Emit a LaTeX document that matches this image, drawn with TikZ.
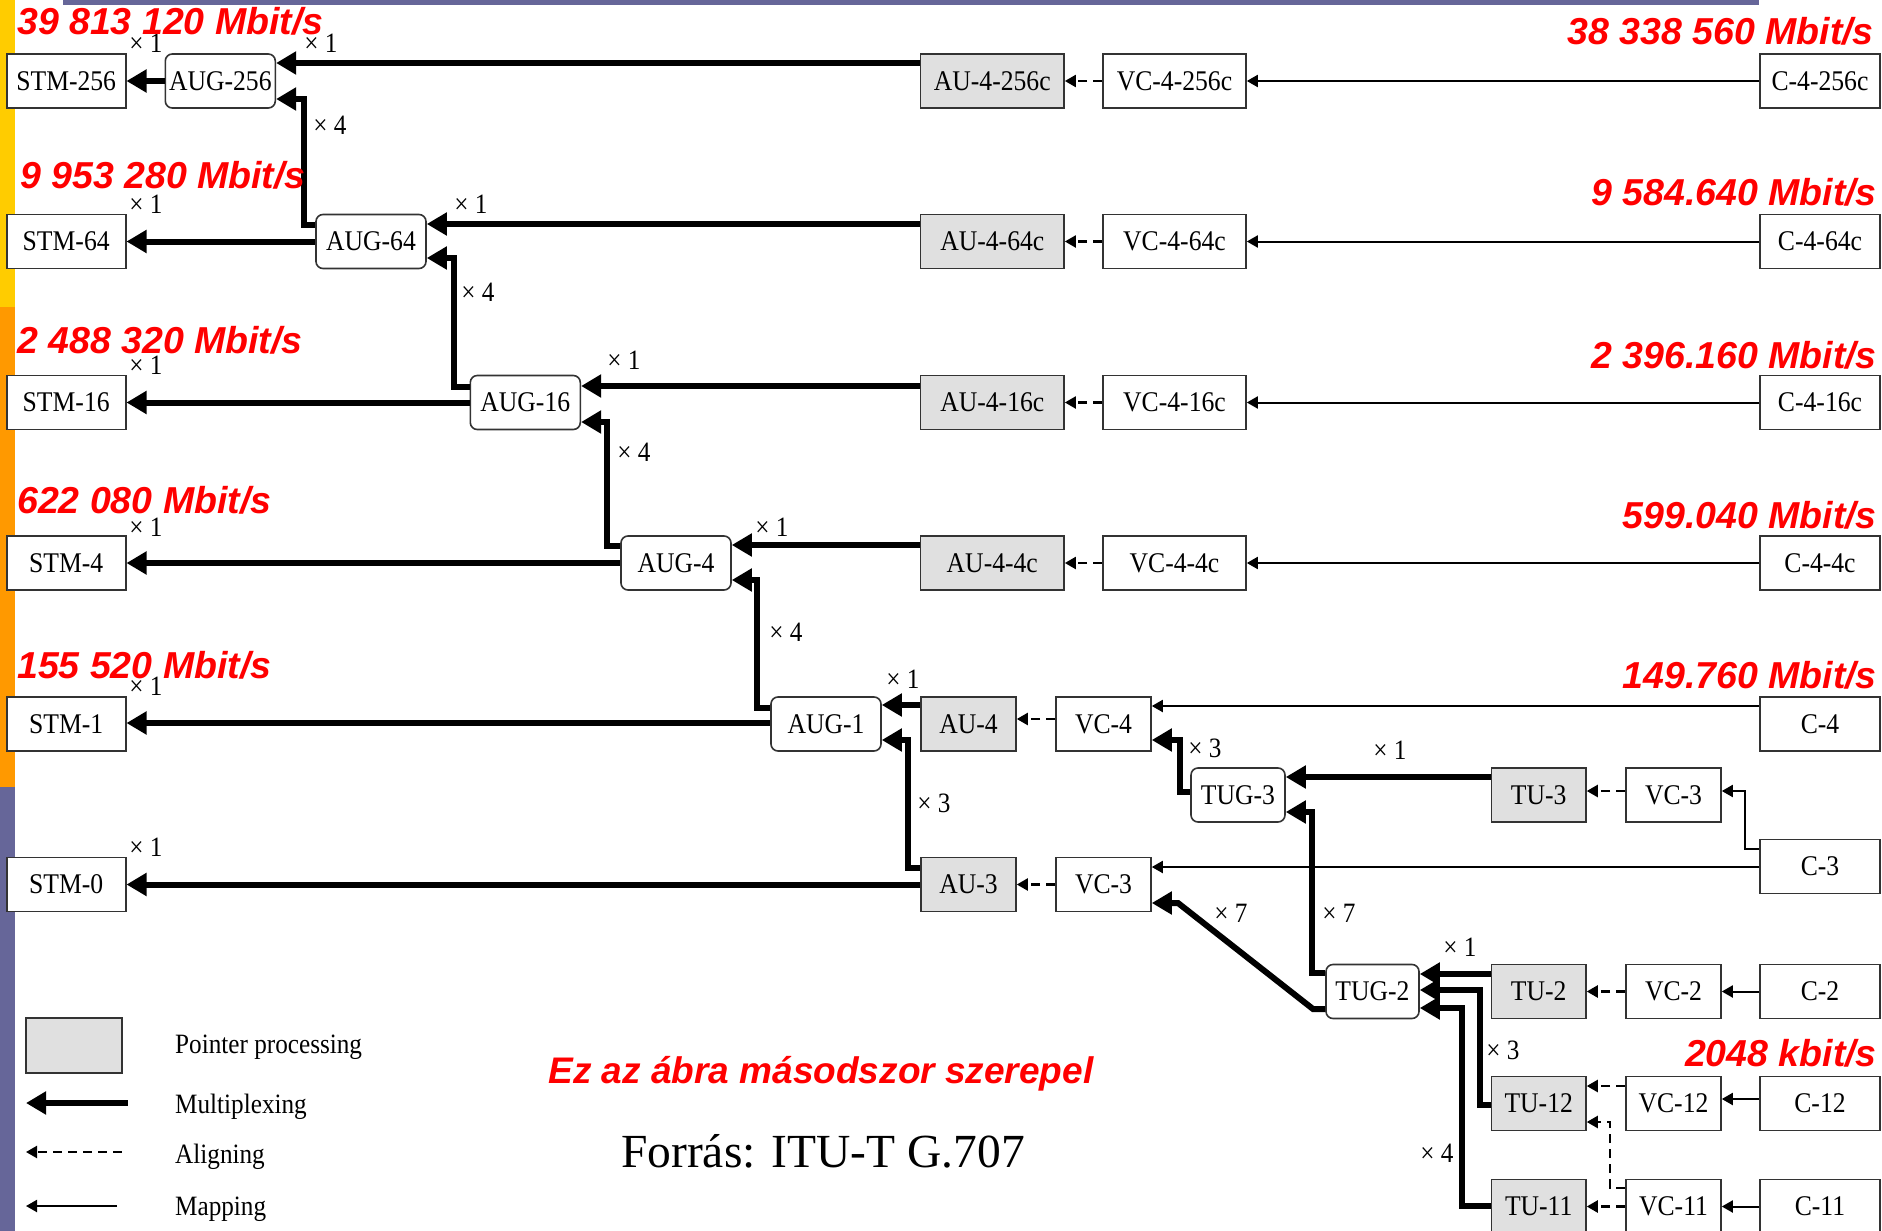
\documentclass[tikz,border=0pt]{standalone}
\usepackage{fontspec}
\setmainfont{Liberation Serif}
\newfontfamily\boxfont[FakeStretch=0.9]{Liberation Serif}
\newfontfamily\redfont{Liberation Sans}
\usetikzlibrary{arrows.meta}
\definecolor{barY}{HTML}{FFCC00}
\definecolor{barO}{HTML}{FF9900}
\definecolor{barB}{HTML}{666699}
\definecolor{boxline}{HTML}{333333}
\definecolor{ptrgray}{RGB}{224,224,224}
\tikzset{
  box/.style={draw=boxline, line width=1.6pt, fill=white, minimum height=54pt, inner sep=0pt,
    font=\boxfont\fontsize{28.5}{30}\selectfont},
  ptr/.style={box, fill=ptrgray},
  grp/.style={box, rounded corners=7pt},
  mux/.style={line width=6pt, line join=miter, -{Triangle[length=20pt,width=22pt]}},
  aln/.style={line width=2.2pt, dash pattern=on 9pt off 6pt, -{Triangle[length=11pt,width=12pt]}},
  mapp/.style={line width=2pt, -{Triangle[length=11pt,width=12pt]}},
  mult/.style={font=\boxfont\fontsize{28}{30}\selectfont, inner sep=0pt},
  rate/.style={font=\redfont\bfseries\itshape\fontsize{37.5}{40}\selectfont, text=red, inner sep=0pt},
  legtxt/.style={font=\boxfont\fontsize{28}{30}\selectfont, inner sep=0pt, anchor=base west},
}
\begin{document}
\begin{tikzpicture}[x=1pt,y=-1pt]
\useasboundingbox (0,0) rectangle (1882,1231);
% side bars and top rule
\fill[barY] (0,0) rectangle (14.5,307);
\fill[barO] (0,307) rectangle (14.5,787);
\fill[barB] (0,787) rectangle (14.5,1231);
\fill[barB] (63,0) rectangle (1759,4.7);

% STM column
\node[box, minimum width=119pt] (stm256) at (66.2,81) {STM-256};
\node[box, minimum width=119pt] (stm64) at (66.2,241.5) {STM-64};
\node[box, minimum width=119pt] (stm16) at (66.2,402.5) {STM-16};
\node[box, minimum width=119pt] (stm4) at (66.2,563) {STM-4};
\node[box, minimum width=119pt] (stm1) at (66.2,724) {STM-1};
\node[box, minimum width=119pt] (stm0) at (66.2,884.5) {STM-0};
% AUG
\node[grp, minimum width=110pt] (aug256) at (220.3,81) {AUG-256};
\node[grp, minimum width=110pt] (aug64) at (371,241.5) {AUG-64};
\node[grp, minimum width=110pt] (aug16) at (525.3,402.5) {AUG-16};
\node[grp, minimum width=110pt] (aug4) at (676,563) {AUG-4};
\node[grp, minimum width=110pt] (aug1) at (826,724) {AUG-1};
% AU-4-Nc
\node[ptr, minimum width=143.5pt] (au256) at (992.3,81) {AU-4-256c};
\node[ptr, minimum width=143.5pt] (au64) at (992.3,241.5) {AU-4-64c};
\node[ptr, minimum width=143.5pt] (au16) at (992.3,402.5) {AU-4-16c};
\node[ptr, minimum width=143.5pt] (au4c) at (992.3,563) {AU-4-4c};
% VC-4-Nc
\node[box, minimum width=143pt] (vc256) at (1174.5,81) {VC-4-256c};
\node[box, minimum width=143pt] (vc64) at (1174.5,241.5) {VC-4-64c};
\node[box, minimum width=143pt] (vc16) at (1174.5,402.5) {VC-4-16c};
\node[box, minimum width=143pt] (vc4c) at (1174.5,563) {VC-4-4c};
% C column
\node[box, minimum width=120pt] (c256) at (1820,81) {C-4-256c};
\node[box, minimum width=120pt] (c64) at (1820,241.5) {C-4-64c};
\node[box, minimum width=120pt] (c16) at (1820,402.5) {C-4-16c};
\node[box, minimum width=120pt] (c4c) at (1820,563) {C-4-4c};
\node[box, minimum width=120pt] (c4) at (1820,724) {C-4};
\node[box, minimum width=120pt] (c3) at (1820,866.5) {C-3};
\node[box, minimum width=120pt] (c2) at (1820,991.5) {C-2};
\node[box, minimum width=120pt] (c12) at (1820,1103.5) {C-12};
\node[box, minimum width=120pt] (c11) at (1820,1206.5) {C-11};
% AU-4 / AU-3 and VC-4 / VC-3
\node[ptr, minimum width=95pt] (au4) at (968.5,724) {AU-4};
\node[ptr, minimum width=95pt] (au3) at (968.5,884.5) {AU-3};
\node[box, minimum width=95pt] (vc4) at (1103.5,724) {VC-4};
\node[box, minimum width=95pt] (vc3) at (1103.5,884.5) {VC-3};
% TUG / TU / VC lower right
\node[grp, minimum width=94pt] (tug3) at (1238,795) {TUG-3};
\node[ptr, minimum width=94.5pt] (tu3) at (1538.7,795) {TU-3};
\node[box, minimum width=95pt] (vc3r) at (1673.5,795) {VC-3};
\node[grp, minimum width=93pt] (tug2) at (1372.5,991.5) {TUG-2};
\node[ptr, minimum width=94.5pt] (tu2) at (1538.7,991.5) {TU-2};
\node[box, minimum width=95pt] (vc2) at (1673.5,991.5) {VC-2};
\node[ptr, minimum width=94.5pt] (tu12) at (1538.7,1103.5) {TU-12};
\node[box, minimum width=95pt] (vc12) at (1673.5,1103.5) {VC-12};
\node[ptr, minimum width=94.5pt] (tu11) at (1538.7,1206.5) {TU-11};
\node[box, minimum width=95pt] (vc11) at (1673.5,1206.5) {VC-11};

% multiplexing
\draw[mux] (aug256.west) -- (stm256.east);
\draw[mux] (au256.west |- 0,63) -- (aug256.east |- 0,63);
\draw[mux] (aug64.west |- 0,225) -- (304,225) -- (304,99) -- (aug256.east |- 0,99);
\draw[mux] (aug64.west) -- (stm64.east);
\draw[mux] (au64.west |- 0,224) -- (aug64.east |- 0,224);
\draw[mux] (aug16.west |- 0,387) -- (454,387) -- (454,258) -- (aug64.east |- 0,258);
\draw[mux] (aug16.west) -- (stm16.east);
\draw[mux] (au16.west |- 0,386) -- (aug16.east |- 0,386);
\draw[mux] (aug4.west |- 0,546) -- (607,546) -- (607,422) -- (aug16.east |- 0,422);
\draw[mux] (aug4.west) -- (stm4.east);
\draw[mux] (au4c.west |- 0,545) -- (aug4.east |- 0,545);
\draw[mux] (aug1.west |- 0,708) -- (757,708) -- (757,580) -- (aug4.east |- 0,580);
\draw[mux] (aug1.west |- 0,723) -- (stm1.east |- 0,723);
\draw[mux] (au4.west |- 0,705) -- (aug1.east |- 0,705);
\draw[mux] (au3.west |- 0,868) -- (908,868) -- (908,740) -- (aug1.east |- 0,740);
\draw[mux] (au3.west) -- (stm0.east);
\draw[mux] (tug3.west |- 0,792) -- (1180,792) -- (1180,740) -- (vc4.east |- 0,740);
\draw[mux] (tu3.west |- 0,777) -- (tug3.east |- 0,777);
\draw[mux] (tug2.west |- 0,973) -- (1312,973) -- (1312,812) -- (tug3.east |- 0,812);
\draw[mux] (tug2.west |- 0,1009) -- (1313,1009) -- (1178,903) -- (vc3.east |- 0,903);
\draw[mux] (tu2.west |- 0,974) -- (tug2.east |- 0,974);
\draw[mux] (tu12.west |- 0,1105) -- (1480,1105) -- (1480,990) -- (tug2.east |- 0,990);
\draw[mux] (tu11.west |- 0,1206) -- (1462,1206) -- (1462,1008) -- (tug2.east |- 0,1008);

% aligning
\draw[aln] (vc256.west) -- (au256.east);
\draw[aln] (vc64.west) -- (au64.east);
\draw[aln] (vc16.west) -- (au16.east);
\draw[aln] (vc4c.west) -- (au4c.east);
\draw[aln] (vc4.west |- 0,719) -- (au4.east |- 0,719);
\draw[aln] (vc3.west) -- (au3.east);
\draw[aln] (vc3r.west |- 0,791) -- (tu3.east |- 0,791);
\draw[aln] (vc2.west) -- (tu2.east);
\draw[aln] (vc12.west |- 0,1086) -- (tu12.east |- 0,1086);
\draw[aln] (vc11.west |- 0,1188) -- (1610,1188) -- (1610,1122) -- (tu12.east |- 0,1122);
\draw[aln] (vc11.west) -- (tu11.east);

% mapping
\draw[mapp] (c256.west) -- (vc256.east);
\draw[mapp] (c64.west) -- (vc64.east);
\draw[mapp] (c16.west) -- (vc16.east);
\draw[mapp] (c4c.west) -- (vc4c.east);
\draw[mapp] (c4.west |- 0,706) -- (vc4.east |- 0,706);
\draw[mapp] (c3.west |- 0,867) -- (vc3.east |- 0,867);
\draw[mapp] (c3.west |- 0,849) -- (1745,849) -- (1745,791) -- (vc3r.east |- 0,791);
\draw[mapp] (c2.west) -- (vc2.east);
\draw[mapp] (c12.west |- 0,1099) -- (vc12.east |- 0,1099);
\draw[mapp] (c11.west) -- (vc11.east);

% multiplicity labels
\node[mult] (m1) at (146,43) {× 1};
\node[mult] (m2) at (321,43) {× 1};
\node[mult] (m3) at (330,125) {× 4};
\node[mult] (m4) at (146,204) {× 1};
\node[mult] (m5) at (471,204) {× 1};
\node[mult] (m6) at (478,292) {× 4};
\node[mult] (m7) at (146,365) {× 1};
\node[mult] (m8) at (624,360) {× 1};
\node[mult] (m9) at (634,452) {× 4};
\node[mult] (m10) at (146,527) {× 1};
\node[mult] (m11) at (772,527) {× 1};
\node[mult] (m12) at (786,632) {× 4};
\node[mult] (m13) at (146,686) {× 1};
\node[mult] (m14) at (903,679) {× 1};
\node[mult] (m15) at (934,803) {× 3};
\node[mult] (m16) at (146,847) {× 1};
\node[mult] (m17) at (1205,748) {× 3};
\node[mult] (m18) at (1390,750) {× 1};
\node[mult] (m19) at (1231,913) {× 7};
\node[mult] (m20) at (1339,913) {× 7};
\node[mult] (m21) at (1460,947) {× 1};
\node[mult] (m22) at (1503,1050) {× 3};
\node[mult] (m23) at (1437,1153) {× 4};

% bit rates
\node[rate, anchor=base west] (r1) at (17,35) {39 813 120 Mbit/s};
\node[rate, anchor=base west] (r2) at (20,188) {9 953 280 Mbit/s};
\node[rate, anchor=base west] (r3) at (17,353) {2 488 320 Mbit/s};
\node[rate, anchor=base west] (r4) at (17,513) {622 080 Mbit/s};
\node[rate, anchor=base west] (r5) at (17,678) {155 520 Mbit/s};
\node[rate, anchor=base east] (q1) at (1874,45) {38 338 560 Mbit/s};
\node[rate, anchor=base east] (q2) at (1877,205) {9 584.640 Mbit/s};
\node[rate, anchor=base east] (q3) at (1877,368) {2 396.160 Mbit/s};
\node[rate, anchor=base east] (q4) at (1877,528) {599.040 Mbit/s};
\node[rate, anchor=base east] (q5) at (1877,688) {149.760 Mbit/s};
\node[rate, anchor=base east] (q6) at (1877,1066) {2048 kbit/s};

% notes
\node[font=\redfont\bfseries\itshape\fontsize{37}{40}\selectfont, text=red, anchor=base, inner sep=0pt] (note) at (821,1083) {Ez az ábra másodszor szerepel};
\node[font=\fontsize{47.5}{50}\selectfont, anchor=base, inner sep=0pt] (src) at (823,1167) {Forrás: ITU-T G.707};

% legend
\node[ptr, minimum width=96pt, minimum height=55pt] (lgbox) at (73.75,1045.5) {};
\coordinate (lm1) at (127.7,1103);
\coordinate (lm2) at (26,1103);
\draw[mux] (lm1) -- (lm2);
\coordinate (la1) at (121.8,1152);
\coordinate (la2) at (26,1152);
\draw[aln] (la1) -- (la2);
\coordinate (lp1) at (117,1206);
\coordinate (lp2) at (26,1206);
\draw[mapp] (lp1) -- (lp2);
\node[legtxt] (t1) at (175,1053) {Pointer processing};
\node[legtxt] (t2) at (175,1113) {Multiplexing};
\node[legtxt] (t3) at (175,1163) {Aligning};
\node[legtxt] (t4) at (175,1215) {Mapping};
\end{tikzpicture}
\end{document}
